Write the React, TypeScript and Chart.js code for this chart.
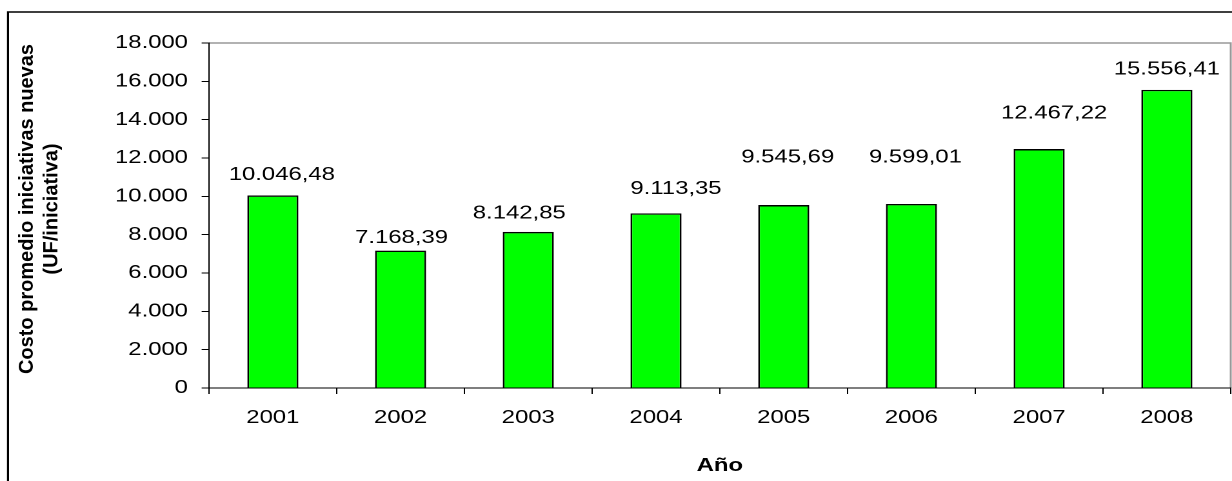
import React, { useEffect, useRef } from 'react';
import { Chart, registerables } from 'chart.js';

Chart.register(...registerables);

// ---- data ----
const years: string[] = ['2001', '2002', '2003', '2004', '2005', '2006', '2007', '2008'];
const costs: number[] = [10046.48, 7168.39, 8142.85, 9113.35, 9545.69, 9599.01, 12467.22, 15556.41];
const yMin = 0;
const yMax = 18000;
const yStep = 2000;
const xAxisTitle = 'Año';
const yAxisTitle: string[] = ['Costo promedio iniciativas nuevas', '(UF/iniciativa)'];

// ---- label placement (manually placed labels in the source, in final px) ----
const labelGap: number[] = [22, 14, 20, 26, 49, 48, 37, 22];
const labelShift: number[] = [9, 1, -9, 20, 4, 4, 15, 0];

// ---- layout (the reference is horizontally stretched) ----
const W = 955;
const H = 481;
const STRETCH = 1232 / W;
const FONT = '"Liberation Sans", Arial, sans-serif';

function formatEs(v: number, decimals: number): string {
  const fixed = Number(v).toFixed(decimals);
  const parts = fixed.split('.');
  const intPart = parts[0].replace(/\B(?=(\d{3})+(?!\d))/g, '.');
  return parts[1] ? intPart + ',' + parts[1] : intPart;
}

const decorPlugin = {
  id: 'decor',
  beforeDraw(chart: any) {
    const ctx = chart.ctx as CanvasRenderingContext2D;
    const a = chart.chartArea;
    ctx.save();
    ctx.fillStyle = '#ffffff';
    ctx.fillRect(0, 0, chart.width, chart.height);
    // outer frame
    ctx.strokeStyle = '#000';
    ctx.lineWidth = 1.6;
    ctx.beginPath();
    ctx.moveTo(8 / STRETCH, chart.height + 2);
    ctx.lineTo(8 / STRETCH, 12);
    ctx.lineTo(chart.width + 2, 12);
    ctx.stroke();
    // plot area frame (top & right)
    ctx.strokeStyle = '#999';
    ctx.lineWidth = 1.5;
    ctx.beginPath();
    ctx.moveTo(a.left, a.top);
    ctx.lineTo(a.right, a.top);
    ctx.lineTo(a.right, a.bottom);
    ctx.stroke();
    // y axis title (two rotated lines)
    ctx.fillStyle = '#000';
    ctx.font = 'bold 20px ' + FONT;
    ctx.textAlign = 'center';
    ctx.textBaseline = 'middle';
    const xs = [27 / STRETCH, 52 / STRETCH];
    yAxisTitle.forEach((line, i) => {
      ctx.save();
      ctx.translate(xs[i], 209);
      ctx.scale(0.8, 1);
      ctx.rotate(-Math.PI / 2);
      ctx.fillText(line, 0, 0);
      ctx.restore();
    });
    ctx.restore();
  },
  afterDatasetsDraw(chart: any) {
    const ctx = chart.ctx as CanvasRenderingContext2D;
    const meta = chart.getDatasetMeta(0);
    ctx.save();
    ctx.font = '18.5px ' + FONT;
    ctx.fillStyle = '#000';
    ctx.textAlign = 'center';
    ctx.textBaseline = 'alphabetic';
    meta.data.forEach((el: any, i: number) => {
      ctx.fillText(
        formatEs(costs[i], 2),
        el.x + labelShift[i] / STRETCH,
        el.y - labelGap[i] + 6.6
      );
    });
    ctx.restore();
  },
};

export default function App() {
  const ref = useRef<HTMLCanvasElement>(null);

  useEffect(() => {
    if (!ref.current) return;
    const chart = new Chart(ref.current, {
      type: 'bar',
      data: {
        labels: years,
        datasets: [
          {
            data: costs,
            backgroundColor: '#00ff00',
            borderColor: '#000000',
            borderWidth: 1.4,
            barPercentage: 0.4,
            categoryPercentage: 1,
          },
        ],
      },
      options: {
        responsive: false,
        animation: false,
        devicePixelRatio: 2,
        layout: { padding: { left: 0, top: 43, right: 1, bottom: 0 } },
        plugins: {
          legend: { display: false },
          tooltip: { enabled: false },
          title: { display: false },
        },
        scales: {
          x: {
            grid: {
              display: true,
              drawOnChartArea: false,
              drawTicks: true,
              tickLength: 6,
              color: '#000',
              lineWidth: 1,
              offset: true,
            },
            border: { display: true, color: '#000', width: 1 },
            ticks: {
              color: '#000',
              font: { family: FONT, size: 18.5 },
              padding: 13,
              maxRotation: 0,
              autoSkip: false,
            },
            title: {
              display: true,
              text: xAxisTitle,
              color: '#000',
              font: { family: FONT, size: 18.5, weight: 'bold' },
              padding: { top: 0, bottom: 4 },
            },
            afterFit: (s: any) => {
              s.height = 93;
            },
          },
          y: {
            min: yMin,
            max: yMax,
            ticks: {
              stepSize: yStep,
              color: '#000',
              font: { family: FONT, size: 18.5 },
              padding: 10.6,
              callback: (v: any) => formatEs(Number(v), 0),
            },
            grid: {
              display: true,
              drawOnChartArea: false,
              drawTicks: true,
              tickLength: 5.7,
              color: '#000',
              lineWidth: 1,
            },
            border: { display: true, color: '#000', width: 1 },
            afterFit: (s: any) => {
              s.width = 162;
            },
          },
        },
      } as any,
      plugins: [decorPlugin],
    });
    return () => chart.destroy();
  }, []);

  return (
    <div
      style={{
        position: 'fixed',
        left: 0,
        top: 0,
        width: 1232,
        height: 481,
        overflow: 'hidden',
        background: '#fff',
      }}
    >
      <div
        style={{
          width: W,
          height: H,
          transform: `scaleX(${STRETCH})`,
          transformOrigin: '0 0',
        }}
      >
        <canvas ref={ref} width={W} height={H} style={{ display: 'block' }} />
      </div>
    </div>
  );
}
